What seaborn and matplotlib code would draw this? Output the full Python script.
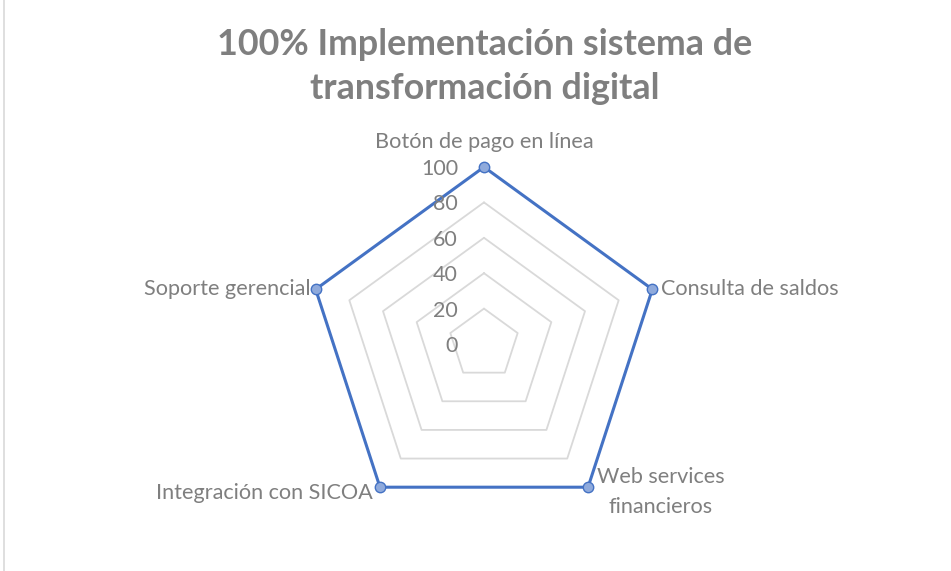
import numpy as np
import seaborn as sns
import matplotlib.pyplot as plt
import matplotlib.transforms as mtransforms
from matplotlib.lines import Line2D

sns.set_theme(style="white")
plt.rcParams['font.family'] = ['Lato', 'DejaVu Sans']

# datos del grafico
categorias = ['Botón de pago en línea', 'Consulta de saldos', 'Web services\nfinancieros',
              'Integración con SICOA', 'Soporte gerencial']
valores = [100, 100, 100, 100, 100]
ticks = [0, 20, 40, 60, 80, 100]
titulo = '100% Implementación sistema de\ntransformación digital'

gris_texto = '#7f7f7f'
azul = '#4472C4'

fig = plt.figure(figsize=(9.51, 5.71), dpi=100)
fig.patch.set_facecolor('white')

# borde izquierdo del area del grafico
fig.add_artist(Line2D([0.0045, 0.0045], [0, 1], transform=fig.transFigure, color='#d9d9d9', lw=1.2))

cx, cy = 484 / 951, (571 - 344) / 571
rw, rh = 177 / 951, 177 / 571
ax = fig.add_axes([cx - rw, cy - rh, 2 * rw, 2 * rh], projection='polar')
ax.set_theta_zero_location('N')
ax.set_theta_direction(-1)
ax.set_ylim(0, 100)
ax.set_facecolor('none')
ax.grid(False)
ax.spines['polar'].set_visible(False)
ax.set_xticks([])
ax.set_yticks([])

n = len(categorias)
ang = np.linspace(0, 2 * np.pi, n, endpoint=False)
ang_c = np.append(ang, ang[0])

# anillos pentagonales
for t in ticks[1:-1]:
    ax.plot(ang_c, [t] * (n + 1), color='#d9d9d9', lw=1.3, zorder=1)

# serie
vals_c = valores + valores[:1]
ax.plot(ang_c, vals_c, color=azul, lw=2.2, zorder=3, solid_joinstyle='miter', clip_on=False)
ax.plot(ang, valores, 'o', color='#8faadc', markeredgecolor=azul, markeredgewidth=1.0,
        markersize=7.5, zorder=4, clip_on=False)

# etiquetas del eje de valores
for t in ticks:
    tr = mtransforms.offset_copy(ax.transData, fig=fig, x=-26, y=-2, units='dots')
    ax.text(0, t, str(t), transform=tr, ha='right', va='center', fontsize=15.5, color=gris_texto, zorder=5)

# etiquetas de categorias
ajustes = [(0, 25, 'center', 'center'), (9, 0, 'left', 'center'), (9, -5, 'left', 'center'),
           (-7, -6, 'right', 'center'), (-5, 0, 'right', 'center')]
for a, lab, (dx, dy, ha, va) in zip(ang, categorias, ajustes):
    tr = mtransforms.offset_copy(ax.transData, fig=fig, x=dx, y=dy, units='dots')
    ax.text(a, 100, lab, transform=tr, ha=ha, va=va, fontsize=15.6, color=gris_texto,
            linespacing=1.65, multialignment='center', zorder=5)

fig.text(cx + 0.5 / 951, 1 - 66.5 / 571, titulo, ha='center', va='center', fontsize=25.8,
         fontweight='bold', color=gris_texto, linespacing=1.4)

fig.savefig('out.png', dpi=100)
